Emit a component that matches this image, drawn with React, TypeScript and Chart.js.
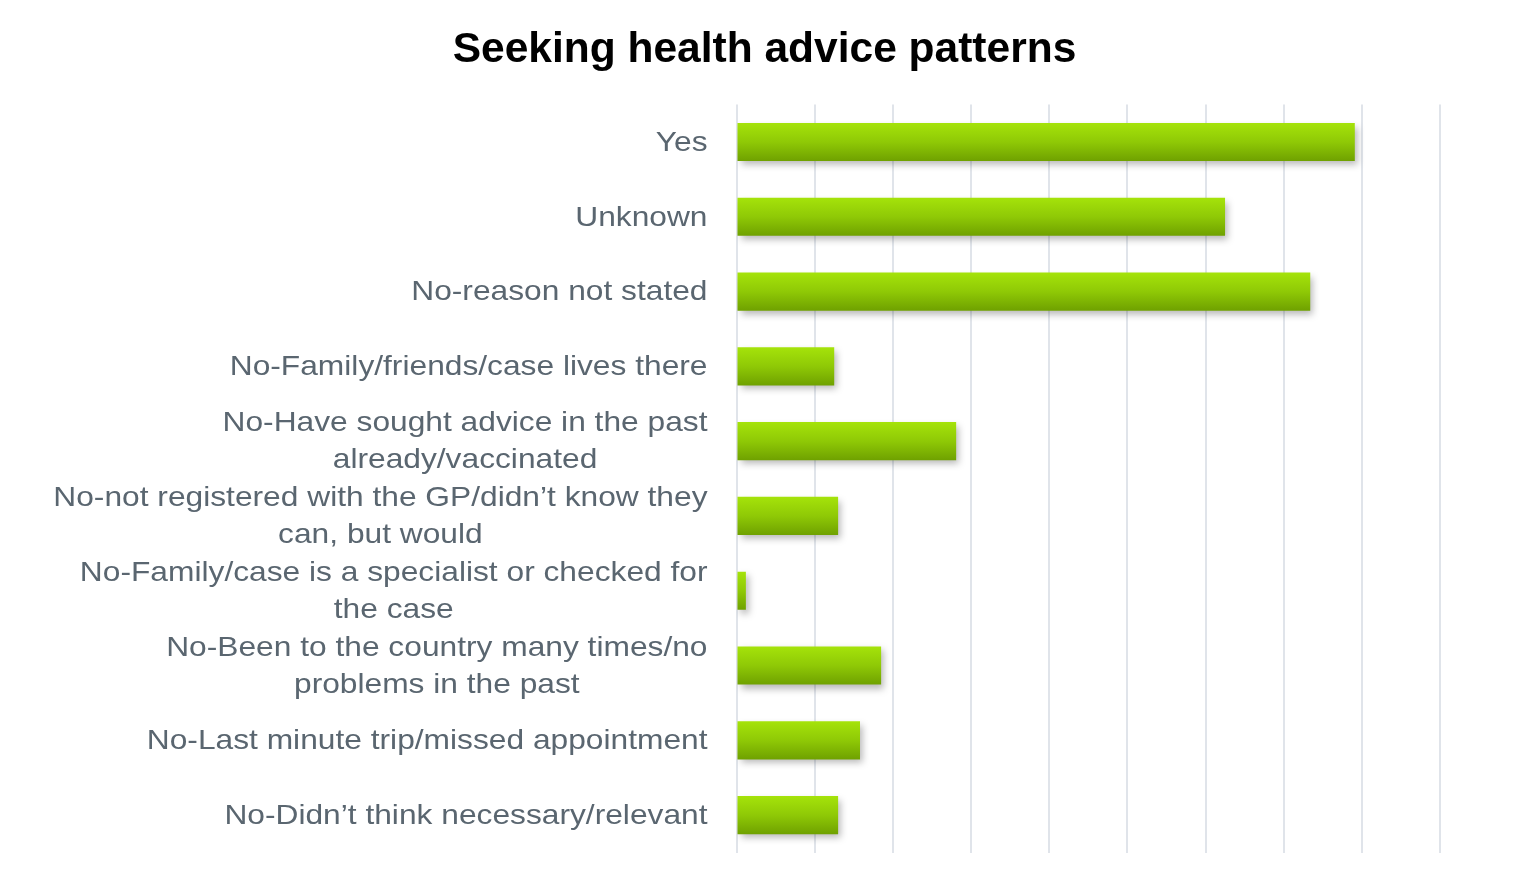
import React, { useEffect, useRef } from "react";
import { Chart, registerables } from "chart.js";

Chart.register(...registerables);

const titleText = "Seeking health advice patterns";

const categories: string[][] = [
  ["Yes"],
  ["Unknown"],
  ["No-reason not stated"],
  ["No-Family/friends/case lives there"],
  ["No-Have sought advice in the past", "already/vaccinated"],
  ["No-not registered with the GP/didn\u2019t know they", "can, but would"],
  ["No-Family/case is a specialist or checked for", "the case"],
  ["No-Been to the country many times/no", "problems in the past"],
  ["No-Last minute trip/missed appointment"],
  ["No-Didn\u2019t think necessary/relevant"],
];

const values: number[] = [79.1, 62.5, 73.4, 12.5, 28.1, 13, 1.2, 18.5, 15.8, 13];

const axisMin = 0;
const axisMax = 90;
const axisStep = 10;

const LABEL_FONT = '28px "Liberation Sans", Arial, sans-serif';
const LABEL_COLOR = "#5a6670";
const LABEL_LINE_H = 37;
const LABEL_GAP = 29;
const LABEL_STRETCH = 1.133;

const labelPlugin = {
  id: "customLabels",
  afterDraw(chart: any) {
    const { ctx, scales } = chart;
    const y = scales.y;
    const x = scales.x;
    const right = x.left - LABEL_GAP;
    ctx.save();
    ctx.font = LABEL_FONT;
    ctx.fillStyle = LABEL_COLOR;
    ctx.textBaseline = "middle";
    ctx.textAlign = "center";
    categories.forEach((lines, i) => {
      const cy = y.getPixelForValue(i) + 1;
      const widths = lines.map((l) => ctx.measureText(l).width * LABEL_STRETCH);
      const maxW = Math.max(...widths);
      const cx = right - maxW / 2;
      lines.forEach((line, j) => {
        const ly = cy + (j - (lines.length - 1) / 2) * LABEL_LINE_H;
        ctx.save();
        ctx.translate(cx, ly);
        ctx.scale(LABEL_STRETCH, 1);
        ctx.fillText(line, 0, 0);
        ctx.restore();
      });
    });
    ctx.restore();
  },
};

const shadowPlugin = {
  id: "barShadow",
  beforeDatasetsDraw(chart: any) {
    const ctx = chart.ctx;
    ctx.save();
    ctx.shadowColor = "rgba(0,0,0,0.28)";
    ctx.shadowBlur = 7;
    ctx.shadowOffsetX = 3;
    ctx.shadowOffsetY = 4;
  },
  afterDatasetsDraw(chart: any) {
    chart.ctx.restore();
  },
};

const CAT_PCT = 0.51;

export default function App() {
  const ref = useRef<HTMLCanvasElement | null>(null);

  useEffect(() => {
    if (!ref.current) return;
    const chart = new Chart(ref.current, {
      type: "bar",
      data: {
        labels: categories.map((c) => c.join(" ")),
        datasets: [
          {
            data: values,
            borderWidth: 0,
            categoryPercentage: CAT_PCT,
            barPercentage: 1,
            backgroundColor: (c: any) => {
              const ch = c.chart;
              const ys = ch.scales && ch.scales.y;
              if (!ys || c.dataIndex === undefined) return "#8cc800";
              const cy = ys.getPixelForValue(c.dataIndex);
              const h = ((ys.bottom - ys.top) / categories.length) * CAT_PCT;
              if (!isFinite(cy) || !isFinite(h) || h <= 0) return "#8cc800";
              const g = ch.ctx.createLinearGradient(0, cy - h / 2, 0, cy + h / 2);
              g.addColorStop(0, "#a5e30a");
              g.addColorStop(0.5, "#8fc906");
              g.addColorStop(1, "#6fa100");
              return g;
            },
          },
        ],
      },
      options: {
        indexAxis: "y",
        responsive: false,
        animation: false,
        layout: { padding: { left: 89, right: 75, top: 0, bottom: 20.5 } },
        plugins: {
          legend: { display: false },
          tooltip: { enabled: false },
          title: {
            display: true,
            text: titleText,
            color: "#000000",
            font: { family: '"Liberation Sans", Arial, sans-serif', size: 42.5, weight: "bold" },
            padding: { top: 25, bottom: 28.6 },
          },
        },
        scales: {
          x: {
            min: axisMin,
            max: axisMax,
            ticks: { display: false, stepSize: axisStep },
            grid: { color: "#e0e4ea", lineWidth: 2, drawTicks: false },
            border: { display: false },
          },
          y: {
            ticks: { display: false },
            grid: { display: false },
            border: { display: false },
            afterFit: (scale: any) => {
              scale.width = 736.5 - 89;
            },
          },
        },
      },
      plugins: [shadowPlugin, labelPlugin],
    } as any);
    return () => chart.destroy();
  }, []);

  return (
    <div style={{ position: "fixed", left: 0, top: 0, width: 1515, height: 873, background: "#ffffff" }}>
      <canvas ref={ref} width={1515} height={873} style={{ display: "block" }} />
    </div>
  );
}
